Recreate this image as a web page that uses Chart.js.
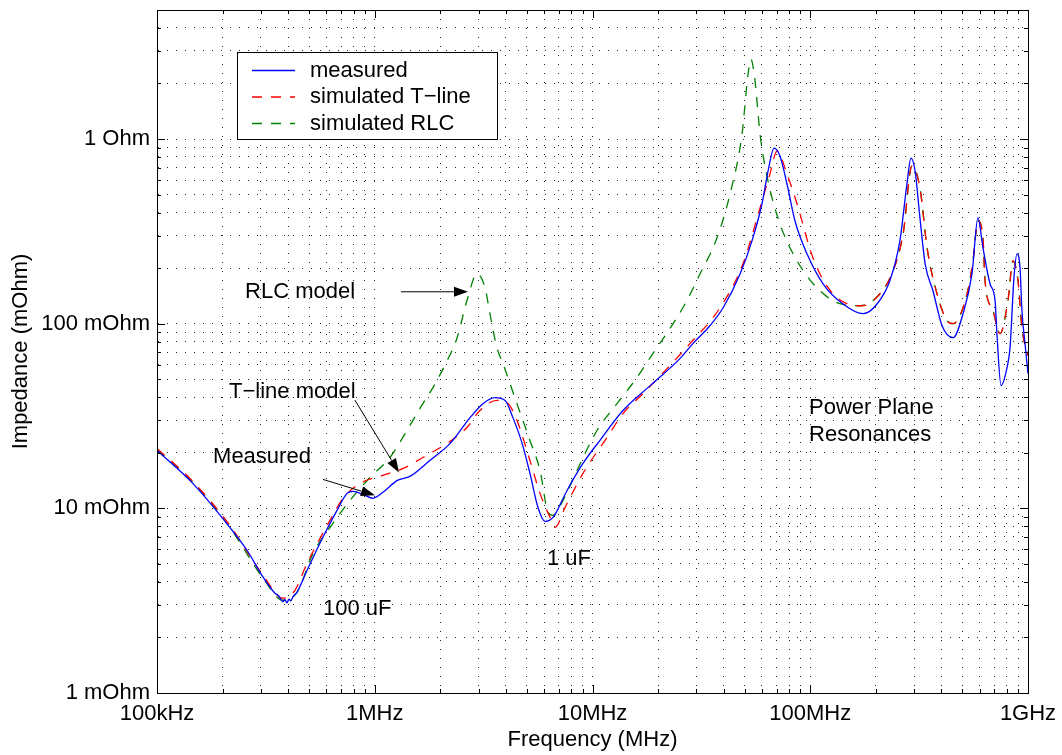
<!DOCTYPE html>
<html lang="en">
<head>
<meta charset="UTF-8">
<title>Impedance vs Frequency</title>
<script src="https://cdn.jsdelivr.net/npm/chart.js"></script>
<style>
  * { margin: 0; padding: 0; box-sizing: border-box; }
  body { background: #fff; width: 1062px; height: 755px; overflow: hidden; }
</style>
</head>
<body>
<canvas id="impedanceChart" width="1062" height="755"></canvas>
<script>
// frequency in MHz, impedance in mOhm  ([f, Z] pairs)
const measured = [
  [0.1, 20.6], [0.146, 13.65], [0.216, 7.89], [0.259, 5.93], [0.307, 4.24], [0.348, 3.47],
  [0.362, 3.36], [0.370, 3.22], [0.379, 3.12], [0.387, 3.20], [0.395, 3.08], [0.404, 3.22],
  [0.412, 3.16], [0.421, 3.32], [0.440, 3.52], [0.489, 4.62], [0.578, 6.97], [0.671, 9.75], [0.746, 12.05],
  [0.795, 12.36], [0.883, 11.90], [0.982, 11.33], [1.09, 12.21], [1.27, 14.17], [1.45, 14.89],
  [1.79, 18.17], [2.22, 22.5], [2.74, 31.0], [3.14, 36.9], [3.57, 39.8], [3.97, 38.4],
  [4.31, 31.0], [4.75, 22.5], [5.16, 15.5], [5.62, 10.1], [6.05, 8.50], [6.59, 8.94],
  [7.64, 12.5], [9.04, 17.5], [10.8, 23.3], [13.8, 33.9], [18.4, 46.2], [25.2, 64.7],
  [28.9, 78.0], [34.6, 97.5], [39.8, 122], [47.6, 186], [54.0, 281], [60.0, 445],
  [64.0, 671], [68.2, 894], [72.6, 809], [78.2, 571], [85.1, 360], [96.6, 239],
  [114.5, 164.5], [141, 128.3], [175, 113.3], [203, 128.3], [232, 170.8], [258, 281],
  [278, 571], [290, 789], [303, 671], [319, 374], [337, 211], [366, 150.8],
  [403, 97.5], [453, 84.0], [503, 113.3], [553, 186], [589, 374], [621, 258],
  [669, 164.5], [706, 133.2], [720, 88.3], [752, 46.2], [801, 57.8], [827, 74.2],
  [862, 177], [890, 239], [919, 201], [938, 117.6], [969, 78.0], [1000, 53.7]
];

const simTline = [
  [0.1, 21.1], [0.146, 14.0], [0.216, 8.09], [0.307, 4.34], [0.379, 3.26], [0.430, 3.60],
  [0.489, 5.04], [0.623, 8.61], [0.715, 11.33], [0.856, 13.65], [1.09, 15.08], [1.35, 16.45],
  [1.79, 19.83], [2.15, 22.46], [2.65, 27.4], [3.04, 33.9], [3.64, 38.4], [4.05, 37.4],
  [4.50, 29.9], [5.16, 18.17], [5.74, 12.05], [6.38, 8.94], [6.73, 7.89], [7.48, 10.12],
  [9.04, 15.46], [11.66, 24.2], [13.8, 32.6], [17.06, 41.8], [28.0, 78.0], [38.5, 122],
  [49.1, 211], [58.8, 424], [65.3, 647], [70.4, 861], [78.2, 647], [87.0, 445],
  [103, 227], [127, 145.3], [173, 125.1], [209, 145.3], [240, 193.4], [267, 306.6],
  [293, 715], [319, 543], [344, 257.6], [382, 145.3], [425, 103.8], [453, 100],
  [525, 145.3], [559, 219], [589, 360], [621, 291.6], [635, 170.8], [691, 117.6],
  [744, 88.3], [809, 133.2], [853, 219], [900, 170.8], [938, 95.1], [1000, 67.1]
];

const simRLC = [
  [0.1, 20.8], [0.146, 13.82], [0.216, 7.89], [0.307, 4.18], [0.379, 3.18], [0.440, 3.52],
  [0.521, 5.71], [0.643, 8.30], [0.770, 11.05], [0.951, 14.71], [1.175, 18.87], [1.45, 28.1],
  [1.61, 34.7], [1.85, 45.1], [2.15, 63.1], [2.39, 84.0], [2.65, 133.2], [2.95, 186.3],
  [3.21, 156.5], [3.38, 113.3], [3.64, 74.2], [3.88, 60.8], [4.50, 36.9], [5.16, 23.3],
  [5.74, 16.05], [6.25, 9.51], [6.59, 9.17], [7.32, 11.05], [8.49, 16.05], [10.49, 26.4],
  [12.96, 36.9], [16.0, 51.1], [18.4, 65.5], [26.0, 122], [31.2, 186.3], [37.3, 291.6],
  [42.8, 504], [48.6, 1064], [51.8, 2245], [53.4, 2706], [55.8, 2058], [58.8, 1064],
  [64.0, 593], [72.6, 347], [87.0, 219], [107.4, 156.5], [136.9, 128.3], [169, 125.1],
  [209, 145.3], [240, 193.4], [267, 306.6], [293, 715], [319, 543], [344, 257.6],
  [382, 145.3], [425, 103.8], [453, 100], [525, 145.3], [559, 219], [589, 360],
  [621, 291.6], [635, 170.8], [691, 117.6], [744, 88.3], [809, 133.2], [853, 219],
  [900, 170.8], [938, 95.1], [1000, 67.1]
];

const seriesLabels = ['measured', 'simulated T\u2212line', 'simulated RLC'];

const xTickValues = [0.1, 1, 10, 100, 1000];
const xTickLabels = ['100kHz', '1MHz', '10MHz', '100MHz', '1GHz'];
const yTickValues = [1, 10, 100, 1000];
const yTickLabels = ['1 mOhm', '10 mOhm', '100 mOhm', '1 Ohm'];
const minorSteps = [1, 2, 3, 4, 5, 6, 7, 8, 9];

// text notes, anchored in data units (left edge, baseline)
const notes = [
  { text: 'RLC model', f: 0.2536, z: 138.2 },
  { text: 'T\u2212line model', f: 0.2141, z: 39.8 },
  { text: 'Measured', f: 0.1809, z: 17.5 },
  { text: '100 uF', f: 0.578, z: 2.64 },
  { text: '1 uF', f: 6.18, z: 4.92 },
  { text: 'Power Plane', f: 98.7, z: 32.6 },
  { text: 'Resonances', f: 98.7, z: 23.3 }
];
const arrows = [
  { from: [1.320, 148.9], to: [2.681, 148.9] },
  { from: [0.81, 38.6], to: [1.292, 15.65] },
  { from: [0.578, 14.35], to: [1.0026, 11.76] }
];

const FONT = "'Liberation Sans', Arial, Helvetica, sans-serif";
Chart.defaults.font.family = FONT;
Chart.defaults.font.size = 22;
Chart.defaults.color = '#000';

const toXY = arr => arr.map(p => ({ x: p[0], y: p[1] }));
const sameVal = (a, b) => Math.abs(a - b) / b < 1e-6;

function decadeTicks(majors, max) {
  const ticks = [];
  majors.forEach(m => minorSteps.forEach(k => {
    const v = m * k;
    if (v <= max * 1.000001) ticks.push({ value: v });
  }));
  return ticks;
}

const gridStyle = { color: 'rgba(0,0,0,0.85)', lineWidth: 1, drawTicks: false };
const borderStyle = { display: true, color: '#000', width: 1, dash: [1, 8] };

// box, inward tick marks, notes, arrows and legend
const decorations = {
  id: 'decorations',
  afterDatasetsDraw(chart) {
    const { ctx, chartArea: a, scales: { x, y } } = chart;
    ctx.save();
    ctx.setLineDash([]);
    ctx.strokeStyle = '#000';
    ctx.lineWidth = 1;

    ctx.beginPath();
    x.ticks.forEach(t => {
      const px = Math.round(x.getPixelForValue(t.value)) + 0.5;
      const len = xTickValues.some(v => sameVal(v, t.value)) ? 8 : 4;
      ctx.moveTo(px, a.bottom); ctx.lineTo(px, a.bottom - len);
      ctx.moveTo(px, a.top); ctx.lineTo(px, a.top + len);
    });
    y.ticks.forEach(t => {
      const py = Math.round(y.getPixelForValue(t.value)) + 0.5;
      const len = yTickValues.some(v => sameVal(v, t.value)) ? 8 : 4;
      ctx.moveTo(a.left, py); ctx.lineTo(a.left + len, py);
      ctx.moveTo(a.right, py); ctx.lineTo(a.right - len, py);
    });
    ctx.stroke();
    ctx.strokeRect(Math.round(a.left) + 0.5, Math.round(a.top) + 0.5,
      Math.round(a.right - a.left), Math.round(a.bottom - a.top));

    // notes
    ctx.font = '22px ' + FONT;
    ctx.fillStyle = '#000';
    ctx.textAlign = 'left';
    ctx.textBaseline = 'alphabetic';
    notes.forEach(n => ctx.fillText(n.text, x.getPixelForValue(n.f), y.getPixelForValue(n.z)));

    // arrows
    arrows.forEach(ar => {
      const x1 = x.getPixelForValue(ar.from[0]), y1 = y.getPixelForValue(ar.from[1]);
      const x2 = x.getPixelForValue(ar.to[0]), y2 = y.getPixelForValue(ar.to[1]);
      const ang = Math.atan2(y2 - y1, x2 - x1);
      const hl = 14, hw = 5;
      const bx = x2 - hl * Math.cos(ang), by = y2 - hl * Math.sin(ang);
      ctx.beginPath();
      ctx.moveTo(x1, y1); ctx.lineTo(bx, by);
      ctx.stroke();
      ctx.beginPath();
      ctx.moveTo(x2, y2);
      ctx.lineTo(bx + hw * Math.sin(ang), by - hw * Math.cos(ang));
      ctx.lineTo(bx - hw * Math.sin(ang), by + hw * Math.cos(ang));
      ctx.closePath();
      ctx.fill();
    });

    // legend
    const lx = Math.round(a.left + 80), ly = Math.round(a.top + 42), lw = 260, lh = 87;
    ctx.fillStyle = '#fff';
    ctx.fillRect(lx, ly, lw, lh);
    ctx.strokeStyle = '#000';
    ctx.lineWidth = 1;
    ctx.strokeRect(lx + 0.5, ly + 0.5, lw, lh);
    ctx.textBaseline = 'middle';
    chart.data.datasets.forEach((ds, i) => {
      const cy = ly + 18.5 + i * 26.5;
      ctx.strokeStyle = ds.borderColor;
      ctx.lineWidth = ds.borderWidth;
      ctx.setLineDash(ds.borderDash || []);
      ctx.beginPath();
      ctx.moveTo(lx + 15, cy); ctx.lineTo(lx + 58, cy);
      ctx.stroke();
      ctx.setLineDash([]);
      ctx.fillStyle = '#000';
      ctx.fillText(ds.label, lx + 73, cy);
    });
    ctx.restore();
  }
};

const ctx = document.getElementById('impedanceChart').getContext('2d');
new Chart(ctx, {
  type: 'line',
  data: {
    datasets: [
      { label: seriesLabels[0], data: toXY(measured), borderColor: '#0000ff', borderWidth: 1.3 },
      { label: seriesLabels[1], data: toXY(simTline), borderColor: '#ff0000', borderWidth: 1.3, borderDash: [10, 9] },
      { label: seriesLabels[2], data: toXY(simRLC), borderColor: '#008000', borderWidth: 1.3, borderDash: [10, 9] }
    ]
  },
  options: {
    responsive: false,
    animation: false,
    elements: {
      point: { radius: 0 },
      line: { cubicInterpolationMode: 'monotone', fill: false }
    },
    layout: { padding: { top: 10, right: 34, left: 0, bottom: 0 } },
    plugins: {
      legend: { display: false },
      tooltip: { enabled: false }
    },
    scales: {
      x: {
        type: 'logarithmic',
        min: 0.1,
        max: 1000,
        afterBuildTicks: s => { s.ticks = decadeTicks(xTickValues, 1000); },
        afterFit: s => { s.height = 62; s.paddingLeft = 0; s.paddingRight = 0; },
        ticks: {
          autoSkip: false,
          maxRotation: 0,
          padding: 8,
          callback: v => {
            const i = xTickValues.findIndex(t => sameVal(t, v));
            return i >= 0 ? xTickLabels[i] : '';
          }
        },
        grid: gridStyle,
        border: borderStyle,
        title: { display: true, text: 'Frequency (MHz)', padding: { top: 0, bottom: 2 } }
      },
      y: {
        type: 'logarithmic',
        min: 1,
        max: 5000,
        afterBuildTicks: s => { s.ticks = decadeTicks(yTickValues, 5000); },
        afterFit: s => { s.width = 157; s.paddingTop = 0; s.paddingBottom = 0; },
        ticks: {
          autoSkip: false,
          padding: 7,
          callback: v => {
            const i = yTickValues.findIndex(t => sameVal(t, v));
            return i >= 0 ? yTickLabels[i] : '';
          }
        },
        grid: gridStyle,
        border: borderStyle,
        title: { display: true, text: 'Impedance (mOhm)', padding: { top: 8, bottom: 0 } }
      }
    }
  },
  plugins: [decorations]
});
</script>
</body>
</html>
